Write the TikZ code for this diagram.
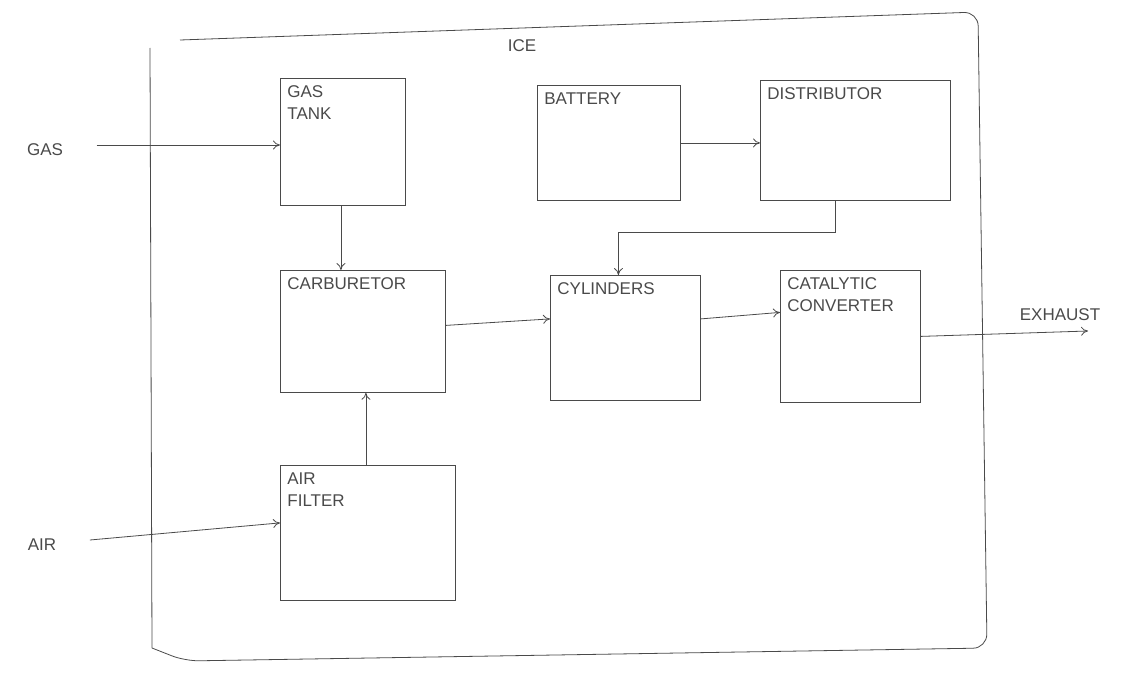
\documentclass[tikz,border=0pt]{standalone}
\usepackage{fontspec}
\setmainfont{Liberation Sans}
\usetikzlibrary{arrows.meta}
\definecolor{pencil}{HTML}{4A4A4A}
\begin{document}
\begin{tikzpicture}[x=1pt,y=-1pt,line width=0.8pt,
  every node/.style={text=pencil},
  font=\fontsize{17}{22}\selectfont,
  blk/.style={draw=pencil,anchor=north west,inner sep=0pt,
    minimum width=#1},
  tag/.style={label={[anchor=north west,align=left,inner sep=7pt,text=pencil]north west:#1}},
  arr/.style={draw=pencil,-{To[length=7pt,width=9pt]}}]
\useasboundingbox (0,0) rectangle (1132,677);

% ICE enclosure
\draw[pencil,rounded corners=14pt] (180,40) -- (978,12) -- (987,648) -- (185,661) -- (152,648);
\draw[pencil] (152,648) -- (150,48);
\node (ice) at (522,46) {ICE};

% blocks
\node[blk=125pt,minimum height=127pt,tag={GAS\\TANK}] (tank) at (280,78) {};
\node[blk=143pt,minimum height=115pt,tag={BATTERY}] (bat) at (537,85) {};
\node[blk=190pt,minimum height=120pt,tag={DISTRIBUTOR}] (dist) at (760,80) {};
\node[blk=165pt,minimum height=122pt,tag={CARBURETOR}] (carb) at (280,270) {};
\node[blk=150pt,minimum height=125pt,tag={CYLINDERS}] (cyl) at (550,275) {};
\node[blk=140pt,minimum height=132pt,tag={CATALYTIC\\CONVERTER}] (cat) at (780,270) {};
\node[blk=175pt,minimum height=135pt,tag={AIR\\FILTER}] (filt) at (280,465) {};

% external inputs and output
\node (gas) at (45,150) {GAS};
\node (air) at (42,545) {AIR};
\node (exh) at (1060,315) {EXHAUST};
\coordinate (exhend) at (1088,331);

% flows
\draw[arr] ([xshift=30pt,yshift=5pt]gas.east) -- ([yshift=5pt]gas.east -| tank.west);
\draw[arr] ([xshift=30pt,yshift=5pt]air.east) -- ([yshift=10pt]filt.west);
\draw[arr] ([xshift=-2pt]tank.south) -- ([xshift=-2pt]tank.south |- carb.north);
\draw[arr] ([xshift=-2pt]filt.north) -- ([xshift=-2pt]filt.north |- carb.south);
\draw[arr] (bat.east) -- (bat.east -| dist.west);
\draw[arr] ([xshift=-20pt]dist.south) -- ++(0,32) -| ([xshift=-7pt]cyl.north);
\draw[arr] ([yshift=6pt]carb.east) -- ([yshift=19pt]cyl.west);
\draw[arr] ([yshift=19pt]cyl.east) -- ([yshift=24pt]cat.west);
\draw[arr] (cat.east) -- (exhend);
\end{tikzpicture}
\end{document}
